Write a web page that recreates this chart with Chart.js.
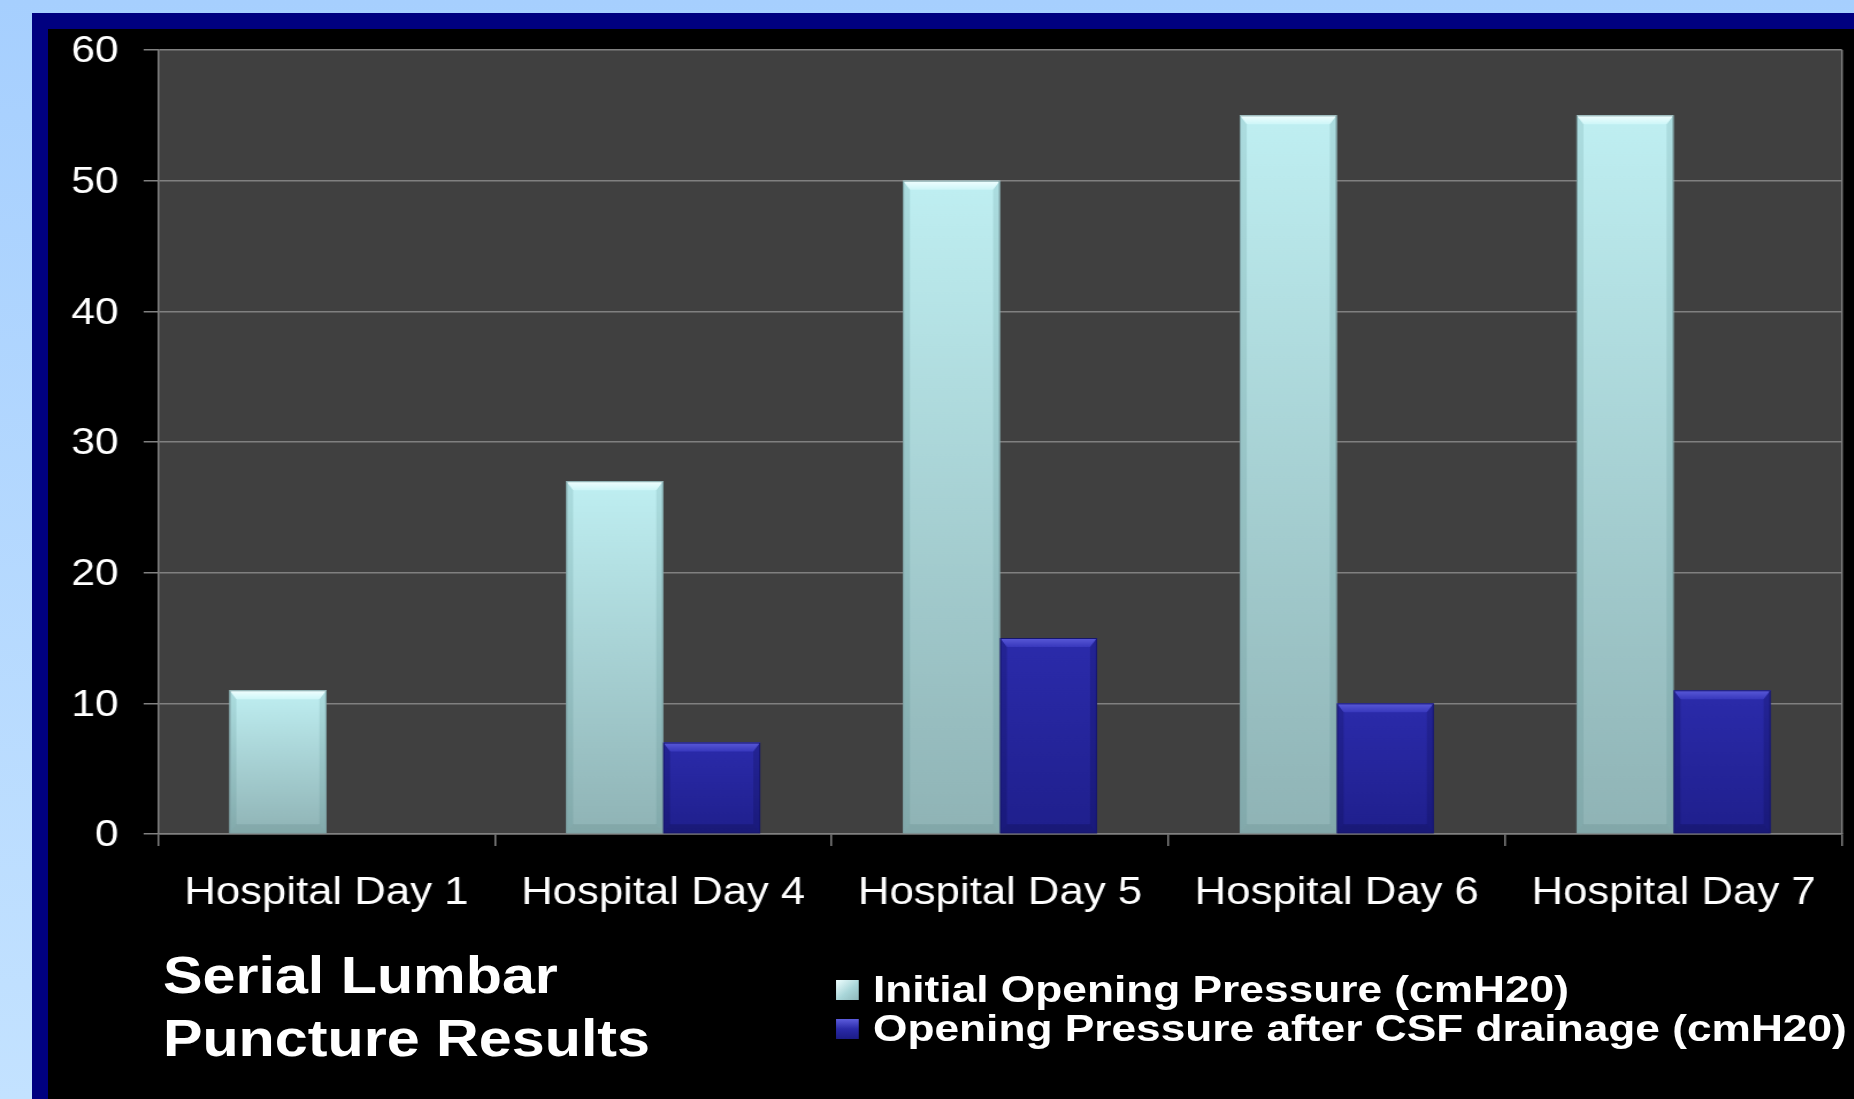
<!DOCTYPE html>
<html>
<head>
<meta charset="utf-8">
<title>Serial Lumbar Puncture Results</title>
<script src="https://cdn.jsdelivr.net/npm/chart.js@4.4.1/dist/chart.umd.min.js"></script>
<style>
  html, body { margin: 0; padding: 0; }
  body {
    width: 1854px; height: 1099px; overflow: hidden; position: relative;
    background: linear-gradient(#a6cffe, #c3e2ff);
    font-family: "Liberation Sans", Arial, sans-serif;
  }
  #navy { position: absolute; left: 32px; top: 13px; right: 0; bottom: 0; background: #000080; }
  #black { position: absolute; left: 48px; top: 29px; right: 0; bottom: 0; background: #000; }
  /* the slide is stretched horizontally, so draw narrow and widen */
  #stage {
    position: absolute; left: 0; top: 0;
    width: 1612.17px; height: 1099px;
    transform: scaleX(1.15); transform-origin: 0 0;
  }
  #stage canvas { position: absolute; left: 0; top: 0; }
  #title {
    position: absolute; left: 141.7px; top: 944px;
    color: #fff; font-weight: bold; font-size: 51.5px; line-height: 63px;
    white-space: nowrap;
  }
  #legend {
    position: absolute; left: 727px; top: 970.4px;
    transform: scaleX(1.04); transform-origin: 0 0;
    color: #fff; font-weight: bold; font-size: 37px; line-height: 39px;
    white-space: nowrap;
  }
  #legend .row { position: relative; height: 39px; padding-left: 30.9px; }
  #legend .box { position: absolute; left: 0; top: 10px; width: 19.2px; height: 20px; }
</style>
</head>
<body>
<div id="navy"></div>
<div id="black"></div>
<div id="stage">
  <canvas id="lpChart"></canvas>
  <div id="title">Serial Lumbar<br>Puncture Results</div>
  <div id="legend"></div>
</div>
<script>
// Data
const categories = ["Hospital Day 1", "Hospital Day 4", "Hospital Day 5", "Hospital Day 6", "Hospital Day 7"];
const initialPressure = [11, 27, 50, 55, 55];
const afterDrainage = [null, 7, 15, 10, 11];
const seriesNames = ["Initial Opening Pressure (cmH20)", "Opening Pressure after CSF drainage (cmH20)"];
const yMin = 0, yMax = 60, yStep = 10;

// bar looks: body gradient + bevel facets
const barLooks = [
  { top: "#bfeff2", bottom: "#8fb3b5", light: "#f2ffff", lightEnd: "#cdf6f8", side: "rgba(60,110,115,0.14)", foot: "rgba(40,80,85,0.12)", edge: "#7fa3a6", legend: "linear-gradient(135deg, #f0ffff, #a9d6d9 55%, #8fb8bb)" },
  { top: "#2b2bab", bottom: "#1f1f8c", light: "#5a5ad8", lightEnd: "#3838bd", side: "rgba(0,0,40,0.16)", foot: "rgba(0,0,30,0.18)", edge: "#16166e", legend: "linear-gradient(#5c5cdc, #2a2aa8 50%, #1c1c86)" }
];

function barGradient(look) {
  return function (ctx) {
    const chart = ctx.chart;
    if (!chart.chartArea || !ctx.parsed || ctx.parsed.y == null) return look.top;
    const y = chart.scales.y;
    const g = chart.ctx.createLinearGradient(0, y.getPixelForValue(ctx.parsed.y), 0, y.getPixelForValue(0));
    g.addColorStop(0, look.top);
    g.addColorStop(1, look.bottom);
    return g;
  };
}

// dark plot background and frame line on the right of the chart area
const plotBackground = {
  id: "plotBackground",
  beforeDraw(chart) {
    const a = chart.chartArea, c = chart.ctx;
    c.save();
    c.fillStyle = "#404040";
    c.fillRect(a.left, a.top, a.right - a.left, a.bottom - a.top);
    c.strokeStyle = "#808080";
    c.lineWidth = 1.5;
    c.beginPath();
    c.moveTo(a.right, a.top);
    c.lineTo(a.right, a.bottom);
    c.stroke();
    c.restore();
  }
};

// bevelled edges on each bar, like the slide's 3D bar style
const bevel = {
  id: "bevel",
  afterDatasetsDraw(chart) {
    const c = chart.ctx;
    chart.data.datasets.forEach((ds, di) => {
      const look = barLooks[di];
      chart.getDatasetMeta(di).data.forEach((bar, i) => {
        if (ds.data[i] == null) return;
        const p = bar.getProps(["x", "y", "base", "width"], true);
        const l = p.x - p.width / 2, r = p.x + p.width / 2, t = p.y, b = p.base;
        const dx = 6, dy = 9;
        c.save();
        const g = c.createLinearGradient(0, t, 0, t + dy);
        g.addColorStop(0, look.light);
        g.addColorStop(1, look.lightEnd);
        c.fillStyle = g;
        c.beginPath();
        c.moveTo(l, t); c.lineTo(r, t); c.lineTo(r - dx, t + dy); c.lineTo(l + dx, t + dy);
        c.closePath(); c.fill();
        c.fillStyle = look.side;
        c.beginPath();
        c.moveTo(l, t); c.lineTo(l + dx, t + dy); c.lineTo(l + dx, b - dy); c.lineTo(l, b);
        c.closePath(); c.fill();
        c.beginPath();
        c.moveTo(r, t); c.lineTo(r, b); c.lineTo(r - dx, b - dy); c.lineTo(r - dx, t + dy);
        c.closePath(); c.fill();
        c.fillStyle = look.foot;
        c.beginPath();
        c.moveTo(l, b); c.lineTo(l + dx, b - dy); c.lineTo(r - dx, b - dy); c.lineTo(r, b);
        c.closePath(); c.fill();
        c.strokeStyle = look.edge;
        c.lineWidth = 1;
        c.strokeRect(l + 0.5, t + 0.5, r - l - 1, b - t - 1);
        c.restore();
      });
    });
  }
};

const fontFamily = "'Liberation Sans', Arial, sans-serif";

var ctx = document.getElementById("lpChart").getContext("2d");
var lpChart = new Chart(ctx, {
  type: "bar",
  data: {
    labels: categories,
    datasets: [
      {
        label: seriesNames[0],
        data: initialPressure,
        backgroundColor: barGradient(barLooks[0]),
        borderWidth: 0,
        categoryPercentage: 0.576,
        barPercentage: 1.0
      },
      {
        label: seriesNames[1],
        data: afterDrainage,
        backgroundColor: barGradient(barLooks[1]),
        borderWidth: 0,
        categoryPercentage: 0.576,
        barPercentage: 1.0
      }
    ]
  },
  options: {
    responsive: true,
    maintainAspectRatio: false,
    animation: false,
    layout: { padding: { left: 47.4, top: 50, right: 10.5, bottom: 165 } },
    scales: {
      x: {
        grid: {
          display: true,
          drawOnChartArea: false,
          drawTicks: true,
          tickLength: 12,
          color: "#808080",
          lineWidth: 1.5
        },
        border: { color: "#808080", width: 1.5 },
        ticks: {
          color: "#ffffff",
          font: { family: fontFamily, size: 38 },
          padding: 25,
          maxRotation: 0,
          autoSkip: false
        },
        afterFit(scale) { scale.height = 100; }
      },
      y: {
        min: yMin,
        max: yMax,
        grid: {
          color: "#808080",
          lineWidth: 1.5,
          tickLength: 12.5
        },
        border: { color: "#808080", width: 1.5 },
        ticks: {
          stepSize: yStep,
          color: "#ffffff",
          font: { family: fontFamily, size: 37 },
          padding: 21.8,
          labelOffset: 2
        },
        afterFit(scale) { scale.width = 90; }
      }
    },
    plugins: {
      legend: { display: false },
      tooltip: { enabled: false }
    }
  },
  plugins: [plotBackground, bevel]
});

// legend rows, built from the series names
const legendEl = document.getElementById("legend");
seriesNames.forEach(function (name, i) {
  const row = document.createElement("div");
  row.className = "row";
  const box = document.createElement("span");
  box.className = "box";
  box.style.background = barLooks[i].legend;
  row.appendChild(box);
  row.appendChild(document.createTextNode(name));
  legendEl.appendChild(row);
});
</script>
</body>
</html>
